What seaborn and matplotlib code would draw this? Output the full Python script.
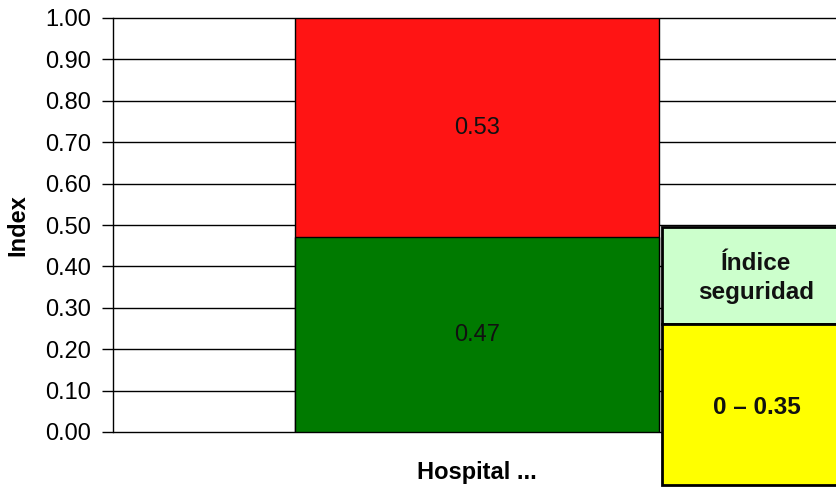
import matplotlib
matplotlib.use("Agg")
import matplotlib.pyplot as plt
import seaborn as sns
import pandas as pd
from matplotlib.patches import Rectangle

categories = ["Hospital ..."]
green_values = [0.47]
red_values = [0.53]
yticks = [0.0, 0.1, 0.2, 0.3, 0.4, 0.5, 0.6, 0.7, 0.8, 0.9, 1.0]
table_header = "Índice\nseguridad"
table_value = "0 – 0.35"

sns.set_theme(style="white")
plt.rcParams['font.family'] = ['Liberation Sans', 'DejaVu Sans']
plt.rcParams['text.color'] = 'black'
plt.rcParams['axes.labelcolor'] = 'black'
plt.rcParams['ytick.color'] = 'black'

df = pd.DataFrame({"cat": categories, "green": green_values, "red": red_values})
df["total"] = df["green"] + df["red"]

W, H = 837, 487
fig = plt.figure(figsize=(W/100, H/100), dpi=100)
ax_left, ax_right, ax_top, ax_bot = 113, 841, 18, 432
ax = fig.add_axes([ax_left/W, 1 - ax_bot/H, (ax_right-ax_left)/W, (ax_bot-ax_top)/H])

ax.set_axisbelow(True)
for t in yticks:
    ax.axhline(t, color="black", lw=1.0, zorder=0, clip_on=False)

sns.barplot(data=df, x="cat", y="total", color="#FF1414", width=0.5,
            edgecolor="black", linewidth=1.0, ax=ax, zorder=2, saturation=1)
sns.barplot(data=df, x="cat", y="green", color="#007A00", width=0.5,
            edgecolor="black", linewidth=1.0, ax=ax, zorder=3, saturation=1)

for i, (g, r) in enumerate(zip(green_values, red_values)):
    ax.text(i, g / 2, f"{g:.2f}", ha="center", va="center", fontsize=17, color="#111111", zorder=5)
    ax.text(i, g + r / 2, f"{r:.2f}", ha="center", va="center", fontsize=17, color="#111111", zorder=5)

ax.set_xlim(-0.5, 0.5)
ax.set_ylim(0, 1.0)
ax.set_yticks(yticks)
ax.set_yticklabels([f"{t:.2f}" for t in yticks], fontsize=17, color="black")
ax.set_xticks([])
ax.set_xlabel("Hospital ...", fontsize=17, fontweight="bold", va="center", color="black")
ax.xaxis.set_label_coords(0.5, -(472 - ax_bot) / (ax_bot - ax_top))
ax.set_ylabel("Index", fontsize=17, fontweight="bold", va="center", color="black")
ax.yaxis.set_label_coords((18 - ax_left) / (ax_right - ax_left), 0.5)
ax.tick_params(axis="y", direction="out", length=8, width=1, color="black", left=True, pad=8)
for s in ["top", "right", "bottom"]:
    ax.spines[s].set_visible(False)
ax.spines["left"].set_color("black")
ax.spines["left"].set_linewidth(1.0)

# Table box
x0, x1 = 662, 842
y_top, y_mid, y_bot = 227, 324, 485
fig.patches.append(Rectangle((x0/W, 1 - y_mid/H), (x1-x0)/W, (y_mid-y_top)/H,
                             transform=fig.transFigure, facecolor="#CCFFCC",
                             edgecolor="black", lw=2, zorder=10))
fig.patches.append(Rectangle((x0/W, 1 - y_bot/H), (x1-x0)/W, (y_bot-y_mid)/H,
                             transform=fig.transFigure, facecolor="#FFFF00",
                             edgecolor="black", lw=2, zorder=10))
fig.text(756/W, 1 - 278/H, table_header, ha="center", va="center", fontsize=17.5,
         fontweight="bold", zorder=11, linespacing=1.35, color="#111111")
fig.text(757/W, 1 - 407/H, table_value, ha="center", va="center", fontsize=17.5,
         fontweight="bold", zorder=11, color="#111111")

fig.savefig("out.png", dpi=100)
